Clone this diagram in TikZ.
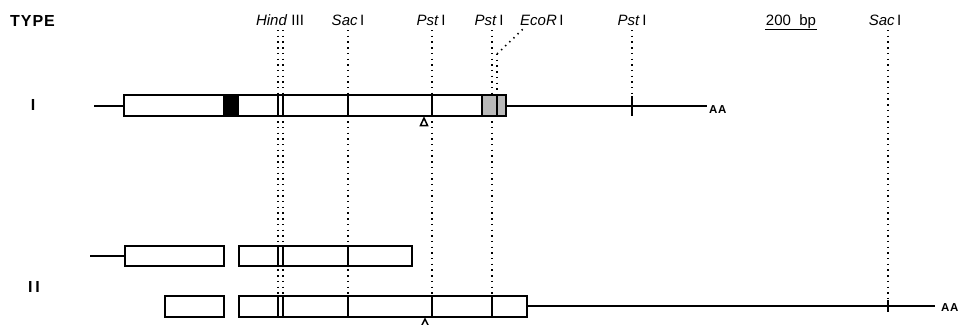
\documentclass[tikz,border=0pt]{standalone}
\usepackage{fontspec}
\setmainfont{Liberation Sans}
\newfontfamily\spacedsans[LetterSpace=6]{Liberation Sans}
\begin{document}
\begin{tikzpicture}[x=1pt,y=-1pt,
  seg/.style={line width=1.7pt},
  exon/.style={draw,line width=1.7pt,fill=white},
  divider/.style={line width=1.7pt},
  site/.style={line width=1.6pt,dash pattern=on 1.4pt off 4.3pt},
  enz/.style={font=\fontsize{15}{17}\selectfont,anchor=base,inner sep=0pt},
  typelab/.style={font=\fontsize{16}{18}\selectfont\bfseries,inner sep=0pt},
  polya/.style={font=\spacedsans\fontsize{11.5}{13}\selectfont\bfseries,anchor=base west,inner sep=0pt},
]
\useasboundingbox (0,0) rectangle (960,324);

% ---- headings and restriction-site labels ----
\node[anchor=base west,inner sep=0pt,font=\spacedsans\fontsize{16}{18}\selectfont\bfseries] (type) at (10,26) {TYPE};
\node[enz] (hind)  at (280,25) {\textit{Hind} III};
\node[enz] (sacA)  at (348,25) {\textit{Sac}\,I};
\node[enz] (pstA)  at (431,25) {\textit{Pst}\,I};
\node[enz] (pstB)  at (489,25) {\textit{Pst}\,I};
\node[enz,anchor=base west] (eco) at (520,25) {\textit{EcoR}\,I};
\node[enz] (pstC)  at (632,25) {\textit{Pst}\,I};
\node[enz] (scale) at (791,25) {200\ \ bp};
\node[enz] (sacB)  at (885,25) {\textit{Sac}\,I};
\draw[line width=1.3pt] (765,29.5) -- (817,29.5);

\node[typelab] (t1) at (33,105) {I};
\node[typelab] (t2) at (34,287) {I\,I};

% ---- site positions ----
\coordinate (hA) at (278,30);
\coordinate (hB) at (283,30);
\coordinate (s1) at (348,30);
\coordinate (p1) at (432,30);
\coordinate (p2) at (492,30);
\coordinate (e1) at (497,54);
\coordinate (p3) at (632,30);
\coordinate (s2) at (888,30);

% ---- dotted site lines (drawn first, boxes cover them) ----
\draw[site] (hA) -- (hA |- 0,296);
\draw[site] (hB) -- (hB |- 0,296);
\draw[site] (s1) -- (s1 |- 0,296);
\draw[site] (p1) -- (p1 |- 0,296);
\draw[site] (p2) -- (p2 |- 0,296);
\draw[site] (e1) -- (e1 |- 0,95);
\draw[site] (e1) -- (523,29);
\draw[site] (p3) -- (p3 |- 0,96);
\draw[site] (s2) -- (s2 |- 0,300);

% ---- type I ----
\draw[seg] (94,106) -- (124,106);
\draw[exon] (124,95) rectangle (506,116);
\fill[black] (223,95) rectangle (239,116);
\filldraw[fill=gray!55,line width=1.7pt] (482,95) rectangle (506,116);
\foreach \x in {278,283,348,432,497}
  \draw[divider] (\x,95) -- (\x,116);
\draw[line width=1.7pt] (124,95) rectangle (506,116);
\draw[seg] (506,106) -- (707,106);
\draw[divider] (632,96) -- (632,116);
\node[polya] (aa1) at (709,113) {AA};
\draw[line width=1.5pt] (420.5,125.5) -- (424,118) -- (427.5,125.5) -- cycle;

% ---- type II, first form ----
\draw[seg] (90,256) -- (125,256);
\draw[exon] (125,246) rectangle (224,266);
\draw[exon] (239,246) rectangle (412,266);
\foreach \x in {278,283,348}
  \draw[divider] (\x,246) -- (\x,266);

% ---- type II, second form ----
\draw[exon] (165,296) rectangle (224,317);
\draw[exon] (239,296) rectangle (527,317);
\foreach \x in {278,283,348,432,492}
  \draw[divider] (\x,296) -- (\x,317);
\draw[seg] (527,306) -- (935,306);
\draw[divider] (888,300) -- (888,312);
\node[polya] (aa2) at (941,311) {AA};
\draw[line width=1.5pt] (421,327) -- (425,319) -- (429,327);
\end{tikzpicture}
\end{document}
